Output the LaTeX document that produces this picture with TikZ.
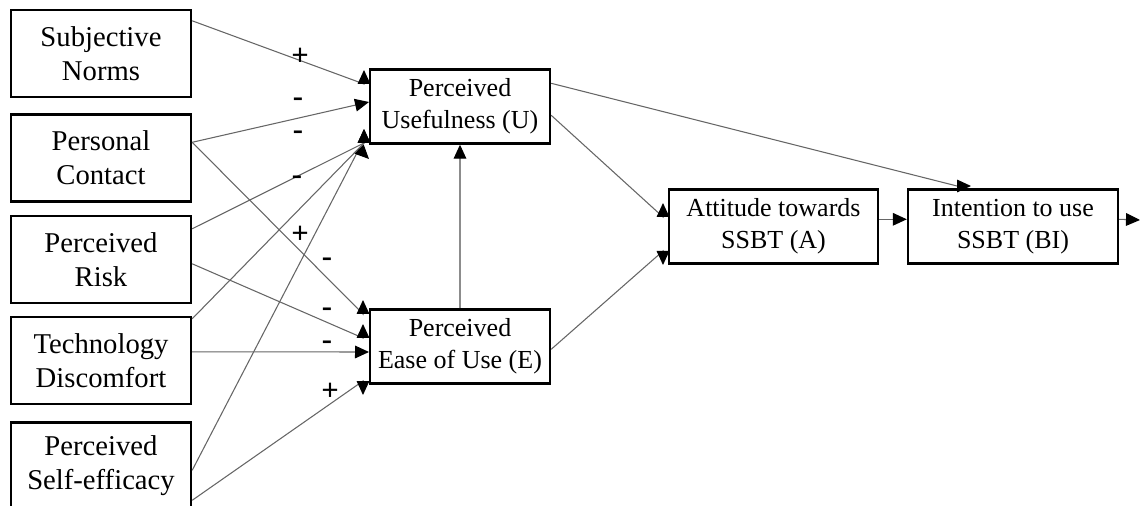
\documentclass[tikz,border=0pt]{standalone}
\usepackage{fontspec}
\setmainfont{Liberation Serif}
\usetikzlibrary{arrows.meta,calc}
\newlength{\pxu}\setlength{\pxu}{0.75pt}
\begin{document}
\begin{tikzpicture}[x=0.75pt,y=-0.75pt,
  box/.style={draw,line width=1.8pt,inner sep=0pt,align=center},
  lbox/.style={box,minimum width=180\pxu,minimum height=87\pxu,font=\fontsize{21.5}{25.5}\selectfont},
  rbox/.style={box,minimum height=74\pxu,font=\fontsize{19.5}{24}\selectfont},
  conn/.style={draw=black!60,line width=0.8pt,-{Triangle[length=10.5pt,width=9.5pt,color=black]}},
  sign/.style={font=\fontsize{23}{23}\selectfont\bfseries,inner sep=0pt}]
\useasboundingbox (0,0) rectangle (1140,506);
\clip (0,0) rectangle (1140,506);
% left boxes
\node[lbox] (SN) at (101,53.5) {Subjective\\Norms};
\node[lbox] (PC) at (101,158) {Personal\\Contact};
\node[lbox] (PR) at (101,259.5) {Perceived\\Risk};
\node[lbox] (TD) at (101,360.5) {Technology\\Discomfort};
\node[lbox] (SE) at (101,466) {Perceived\\Self-efficacy};
% right boxes
\node[rbox,minimum width=180\pxu] (PU) at (460,106.5) {Perceived\\Usefulness (U)};
\node[rbox,minimum width=180\pxu] (PE) at (460,346.5) {Perceived\\Ease of Use (E)};
\node[rbox,minimum width=209\pxu] (A) at (773.5,226.5) {Attitude towards\\SSBT (A)};
\node[rbox,minimum width=210\pxu] (BI) at (1013,226.5) {Intention to use\\SSBT (BI)};
% arrow tip points
\coordinate (pu1) at (364,70);
\coordinate (pu2) at (369,102);
\coordinate (pu3) at (364,129);
\coordinate (pu4) at (369,159);
\coordinate (pe1) at (363,300);
\coordinate (pe2) at (363,324);
\coordinate (pe3) at (369,352);
\coordinate (pe4) at (363,395);
\coordinate (a1) at (663,203);
\coordinate (a2) at (663,265);
\coordinate (bi1) at (971,186);
\coordinate (out) at (1140,220);
% connectors into PU
\draw[conn] ($(SN.north east)+(0,12)$) -- ($(pu1)+(0,14)$) -- (pu1);
\draw[conn] ($(PC.north east)+(0,29)$) -- (pu2);
\draw[conn] ($(PR.north east)+(0,14)$) -- ($(pu3)+(0,14)$) -- (pu3);
\draw[conn] ($(TD.north east)+(0,3)$) -- ($(pu3)+(0,14)$) -- (pu3);
\draw[conn] ($(SE.north east)+(0,49)$) -- ($(pu4)+(-10,-10)$) -- (pu4);
% connectors into PE
\draw[conn] ($(PC.north east)+(0,29)$) -- ($(pe1)+(0,14)$) -- (pe1);
\draw[conn] ($(PR.north east)+(0,49)$) -- ($(pe2)+(0,14)$) -- (pe2);
\draw[conn] ($(TD.north east)+(0,36)$) -- (pe3);
\draw[conn] ($(SE.north east)+(0,79)$) -- ($(pe4)+(0,-14)$) -- (pe4);
% PE to PU
\draw[conn,draw=black!45] (PE.north) -- (PU.south);
% PU, PE to A
\draw[conn] ($(PU.north east)+(0,47)$) -- ($(a1)+(0,14)$) -- (a1);
\draw[conn] ($(PE.north east)+(0,41)$) -- ($(a2)+(0,-14)$) -- (a2);
% PU to BI
\draw[conn] ($(PU.north east)+(0,15)$) -- ($(bi1)+(-14,0)$) -- (bi1);
% A to BI, BI out
\draw[conn] ($(A.north east)+(0,31)$) -- ($(BI.north west)+(0,31)$);
\draw[conn] ($(BI.north east)+(0,31)$) -- (out);
% signs
\node[sign] (s1) at (300,57) {+};
\node[sign] (s2) at (298,102) {-};
\node[sign] (s3) at (298,135) {-};
\node[sign] (s4) at (297,180) {-};
\node[sign] (s5) at (300,235) {+};
\node[sign] (s6) at (327,262) {-};
\node[sign] (s7) at (327,312) {-};
\node[sign] (s8) at (327,345) {-};
\node[sign] (s9) at (330,392) {+};
\end{tikzpicture}
\end{document}
